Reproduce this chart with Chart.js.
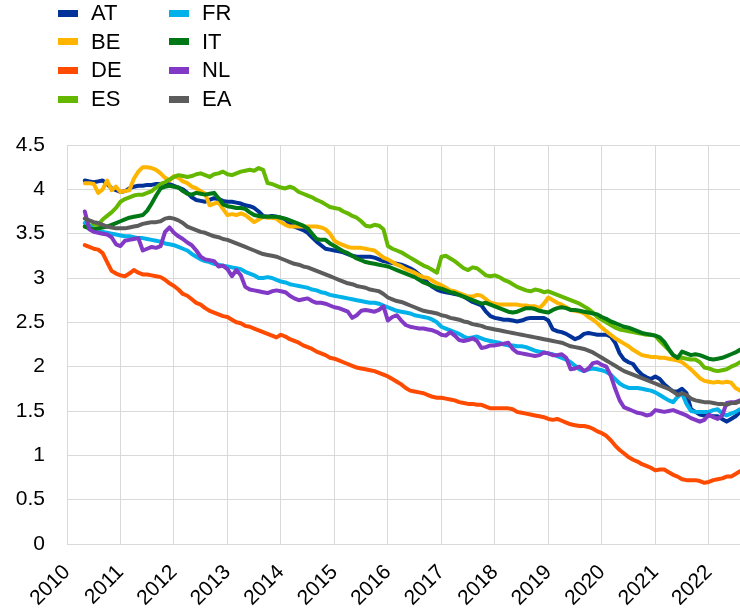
<!DOCTYPE html>
<html>
<head>
<meta charset="utf-8">
<title>Bond yields</title>
<script src="https://cdn.jsdelivr.net/npm/chart.js@4.4.0/dist/chart.umd.min.js"></script>
<style>
  body { margin: 0; background: #fff; }
  #wrap { position: relative; width: 740px; height: 613px; }
  #legend { position: absolute; left: 0; top: 0; font: 22px 'Liberation Sans', Arial, sans-serif; color: #000; }
  .item { position: absolute; display: flex; align-items: center; height: 28px; white-space: nowrap; }
  .swatch { width: 20px; height: 7px; margin-right: 13px; }
</style>
</head>
<body>
<div id="wrap">
  <canvas id="chart" width="740" height="613"></canvas>
  <div id="legend"></div>
</div>
<script>
// monthly series, May 2010 - Aug 2022
const firstMonth = '2010-05';
const lastMonth = '2022-08';

const names = ['AT', 'BE', 'DE', 'ES', 'FR', 'IT', 'NL', 'EA'];
const colors = ['#003299', '#FFB400', '#FF4B00', '#65B800', '#00B1EA', '#007816', '#8139C6', '#5C5C5C'];

const at = [
  4.10, 4.09, 4.08, 4.09, 4.10, 4.06, 4.01, 3.99,
  3.97, 3.98, 4.01, 4.03, 4.04, 4.04, 4.05, 4.05, 4.06, 4.06, 4.07, 4.06,
  4.04, 4.02, 4.00, 3.96, 3.91, 3.88, 3.87, 3.86, 3.88, 3.90, 3.89, 3.87,
  3.86, 3.86, 3.85, 3.84, 3.82, 3.81, 3.79, 3.75, 3.70, 3.69, 3.70, 3.69,
  3.68, 3.66, 3.61, 3.58, 3.56, 3.54, 3.51, 3.46, 3.41, 3.37, 3.33, 3.32,
  3.31, 3.30, 3.29, 3.27, 3.25, 3.24, 3.24, 3.24, 3.24, 3.23, 3.21, 3.19,
  3.18, 3.17, 3.16, 3.15, 3.13, 3.11, 3.08, 3.04, 3.00, 2.94, 2.90, 2.87,
  2.85, 2.84, 2.83, 2.82, 2.81, 2.79, 2.76, 2.73, 2.71, 2.69, 2.62, 2.57,
  2.55, 2.54, 2.53, 2.53, 2.52, 2.51, 2.52, 2.54, 2.55, 2.55, 2.55, 2.55,
  2.52, 2.42, 2.40, 2.39, 2.37, 2.34, 2.31, 2.33, 2.37, 2.38, 2.37, 2.36,
  2.36, 2.36, 2.34, 2.27, 2.15, 2.08, 2.05, 2.03, 1.96, 1.91, 1.88, 1.86,
  1.89, 1.86, 1.80, 1.76, 1.72, 1.72, 1.75, 1.70, 1.52, 1.49, 1.46, 1.45,
  1.45, 1.44, 1.44, 1.41, 1.38, 1.41, 1.44, 1.49
];
const be = [
  4.07, 4.07, 4.06, 3.96, 4.00, 4.10, 3.99, 4.03,
  3.97, 3.98, 3.99, 4.12, 4.20, 4.25, 4.25, 4.24, 4.22, 4.18, 4.13, 4.10,
  4.15, 4.13, 4.09, 4.07, 4.03, 4.01, 3.98, 3.95, 3.82, 3.84, 3.85, 3.78,
  3.71, 3.72, 3.71, 3.73, 3.71, 3.67, 3.63, 3.66, 3.69, 3.68, 3.68, 3.67,
  3.63, 3.60, 3.58, 3.58, 3.58, 3.58, 3.58, 3.58, 3.58, 3.57, 3.55, 3.50,
  3.42, 3.39, 3.37, 3.35, 3.34, 3.34, 3.34, 3.33, 3.32, 3.31, 3.27, 3.23,
  3.21, 3.18, 3.15, 3.13, 3.10, 3.08, 3.06, 3.03, 3.01, 3.00, 2.97, 2.94,
  2.92, 2.89, 2.86, 2.85, 2.83, 2.81, 2.79, 2.79, 2.81, 2.80, 2.76, 2.72,
  2.71, 2.70, 2.70, 2.70, 2.70, 2.70, 2.69, 2.69, 2.68, 2.68, 2.66, 2.71,
  2.78, 2.75, 2.72, 2.70, 2.67, 2.64, 2.63, 2.62, 2.60, 2.56, 2.53, 2.49,
  2.44, 2.40, 2.36, 2.32, 2.29, 2.26, 2.23, 2.19, 2.16, 2.13, 2.12, 2.11,
  2.11, 2.10, 2.10, 2.09, 2.08, 2.07, 2.05, 2.01, 1.97, 1.92, 1.87, 1.84,
  1.83, 1.82, 1.83, 1.82, 1.83, 1.82, 1.76, 1.73
];
const de = [
  3.37, 3.35, 3.33, 3.32, 3.28, 3.18, 3.08, 3.05,
  3.03, 3.02, 3.05, 3.09, 3.06, 3.04, 3.04, 3.03, 3.02, 3.01, 2.98, 2.94,
  2.91, 2.87, 2.82, 2.80, 2.76, 2.72, 2.70, 2.66, 2.63, 2.61, 2.59, 2.57,
  2.56, 2.53, 2.50, 2.49, 2.46, 2.45, 2.43, 2.41, 2.39, 2.37, 2.35, 2.33,
  2.36, 2.34, 2.31, 2.29, 2.27, 2.24, 2.22, 2.20, 2.17, 2.15, 2.13, 2.10,
  2.09, 2.07, 2.05, 2.03, 2.01, 1.99, 1.98, 1.97, 1.96, 1.95, 1.93, 1.91,
  1.89, 1.86, 1.83, 1.80, 1.76, 1.73, 1.72, 1.71, 1.70, 1.68, 1.66, 1.65,
  1.65, 1.64, 1.63, 1.62, 1.60, 1.59, 1.58, 1.58, 1.57, 1.57, 1.55, 1.53,
  1.53, 1.53, 1.53, 1.53, 1.52, 1.49, 1.48, 1.47, 1.46, 1.45, 1.44, 1.43,
  1.41, 1.40, 1.41, 1.39, 1.37, 1.35, 1.34, 1.33, 1.33, 1.32, 1.30, 1.27,
  1.25, 1.22, 1.17, 1.11, 1.06, 1.02, 0.98, 0.95, 0.93, 0.90, 0.88, 0.86,
  0.83, 0.84, 0.84, 0.81, 0.78, 0.76, 0.73, 0.72, 0.72, 0.72, 0.71, 0.69,
  0.70, 0.72, 0.73, 0.74, 0.76, 0.76, 0.79, 0.82
];
const es = [
  3.58, 3.59, 3.60, 3.60, 3.66, 3.70, 3.74, 3.79,
  3.86, 3.89, 3.91, 3.93, 3.94, 3.94, 3.96, 3.98, 4.02, 4.06, 4.08, 4.11,
  4.14, 4.16, 4.15, 4.14, 4.15, 4.17, 4.18, 4.16, 4.14, 4.17, 4.18, 4.20,
  4.17, 4.16, 4.18, 4.20, 4.21, 4.22, 4.21, 4.24, 4.22, 4.07, 4.06, 4.04,
  4.02, 4.01, 4.03, 4.01, 3.97, 3.95, 3.93, 3.91, 3.88, 3.86, 3.83, 3.80,
  3.79, 3.78, 3.75, 3.73, 3.70, 3.68, 3.64, 3.59, 3.58, 3.60, 3.59, 3.55,
  3.36, 3.33, 3.31, 3.29, 3.26, 3.23, 3.20, 3.17, 3.14, 3.12, 3.09, 3.06,
  3.24, 3.25, 3.22, 3.19, 3.15, 3.11, 3.09, 3.12, 3.11, 3.07, 3.03, 3.02,
  3.03, 3.01, 2.98, 2.96, 2.93, 2.90, 2.88, 2.86, 2.85, 2.87, 2.86, 2.84,
  2.85, 2.83, 2.81, 2.79, 2.77, 2.75, 2.73, 2.71, 2.68, 2.65, 2.61, 2.56,
  2.53, 2.50, 2.47, 2.44, 2.42, 2.41, 2.40, 2.39, 2.38, 2.37, 2.36, 2.36,
  2.35, 2.29, 2.24, 2.19, 2.13, 2.10, 2.10, 2.09, 2.08, 2.08, 2.05, 1.99,
  1.98, 1.96, 1.95, 1.96, 1.97, 2.00, 2.02, 2.05
];
const fr = [
  3.62, 3.59, 3.55, 3.53, 3.52, 3.51, 3.50, 3.49,
  3.48, 3.47, 3.47, 3.46, 3.45, 3.45, 3.44, 3.43, 3.42, 3.41, 3.39, 3.38,
  3.37, 3.35, 3.33, 3.31, 3.27, 3.24, 3.21, 3.19, 3.18, 3.16, 3.15, 3.14,
  3.13, 3.12, 3.11, 3.10, 3.07, 3.05, 3.03, 3.00, 3.00, 3.01, 3.00, 2.98,
  2.96, 2.95, 2.93, 2.92, 2.91, 2.90, 2.89, 2.87, 2.86, 2.84, 2.83, 2.81,
  2.80, 2.79, 2.78, 2.77, 2.76, 2.75, 2.74, 2.73, 2.72, 2.72, 2.71, 2.69,
  2.67, 2.65, 2.63, 2.62, 2.61, 2.60, 2.58, 2.57, 2.56, 2.55, 2.53, 2.50,
  2.45, 2.43, 2.41, 2.39, 2.37, 2.34, 2.32, 2.33, 2.34, 2.32, 2.30, 2.29,
  2.28, 2.27, 2.25, 2.24, 2.24, 2.23, 2.23, 2.22, 2.20, 2.18, 2.17, 2.16,
  2.15, 2.14, 2.12, 2.10, 2.08, 2.05, 2.01, 1.97, 1.95, 1.97, 1.98, 1.97,
  1.96, 1.94, 1.91, 1.86, 1.81, 1.78, 1.76, 1.76, 1.76, 1.75, 1.74, 1.73,
  1.71, 1.68, 1.65, 1.62, 1.60, 1.66, 1.70, 1.58, 1.50, 1.49, 1.49, 1.49,
  1.49, 1.51, 1.52, 1.47, 1.45, 1.47, 1.49, 1.52
];
const it = [
  3.58, 3.56, 3.55, 3.56, 3.57, 3.58, 3.60, 3.62,
  3.64, 3.66, 3.68, 3.69, 3.70, 3.71, 3.76, 3.84, 3.93, 4.01, 4.03, 4.04,
  4.03, 4.02, 3.98, 3.95, 3.94, 3.96, 3.95, 3.94, 3.95, 3.96, 3.90, 3.83,
  3.81, 3.80, 3.79, 3.79, 3.78, 3.74, 3.71, 3.70, 3.69, 3.69, 3.69, 3.69,
  3.68, 3.67, 3.65, 3.63, 3.61, 3.59, 3.56, 3.50, 3.44, 3.43, 3.43, 3.39,
  3.36, 3.33, 3.30, 3.28, 3.25, 3.22, 3.20, 3.18, 3.17, 3.16, 3.15, 3.14,
  3.13, 3.11, 3.09, 3.07, 3.05, 3.03, 3.01, 2.98, 2.95, 2.93, 2.91, 2.89,
  2.88, 2.86, 2.84, 2.83, 2.81, 2.79, 2.77, 2.75, 2.73, 2.71, 2.72, 2.70,
  2.68, 2.66, 2.64, 2.62, 2.61, 2.62, 2.64, 2.66, 2.66, 2.65, 2.63, 2.62,
  2.61, 2.64, 2.66, 2.67, 2.66, 2.64, 2.64, 2.63, 2.62, 2.61, 2.60, 2.59,
  2.56, 2.54, 2.51, 2.49, 2.47, 2.45, 2.44, 2.42, 2.40, 2.38, 2.37, 2.36,
  2.35, 2.33, 2.28, 2.20, 2.13, 2.10, 2.17, 2.15, 2.13, 2.14, 2.13, 2.11,
  2.09, 2.08, 2.09, 2.10, 2.12, 2.14, 2.16, 2.19
];
const nl = [
  3.75, 3.55, 3.52, 3.51, 3.50, 3.49, 3.46, 3.38,
  3.36, 3.42, 3.43, 3.44, 3.45, 3.31, 3.33, 3.35, 3.34, 3.36, 3.52, 3.57,
  3.51, 3.47, 3.44, 3.40, 3.37, 3.31, 3.24, 3.21, 3.20, 3.19, 3.13, 3.14,
  3.10, 3.02, 3.09, 3.03, 2.90, 2.87, 2.86, 2.85, 2.84, 2.83, 2.85, 2.86,
  2.85, 2.84, 2.80, 2.77, 2.75, 2.76, 2.77, 2.74, 2.72, 2.72, 2.71, 2.69,
  2.67, 2.66, 2.64, 2.62, 2.55, 2.58, 2.63, 2.64, 2.63, 2.62, 2.64, 2.68,
  2.52, 2.56, 2.58, 2.52, 2.47, 2.45, 2.44, 2.43, 2.43, 2.42, 2.41, 2.39,
  2.36, 2.35, 2.39, 2.35, 2.30, 2.29, 2.30, 2.32, 2.29, 2.21, 2.22, 2.24,
  2.24, 2.25, 2.26, 2.27, 2.20, 2.16, 2.15, 2.14, 2.13, 2.12, 2.13, 2.16,
  2.15, 2.13, 2.13, 2.14, 2.10, 1.97, 1.98, 2.00, 1.95, 1.98, 2.04, 2.05,
  2.02, 2.00, 1.90, 1.75, 1.62, 1.54, 1.52, 1.50, 1.48, 1.47, 1.45, 1.46,
  1.51, 1.50, 1.49, 1.50, 1.51, 1.49, 1.47, 1.45, 1.42, 1.40, 1.38, 1.40,
  1.46, 1.43, 1.41, 1.45, 1.59, 1.60, 1.60, 1.62
];
const ea = [
  3.67, 3.65, 3.63, 3.62, 3.60, 3.58, 3.57, 3.56,
  3.56, 3.56, 3.57, 3.58, 3.59, 3.61, 3.62, 3.63, 3.63, 3.64, 3.67, 3.68,
  3.67, 3.65, 3.62, 3.58, 3.56, 3.54, 3.52, 3.51, 3.49, 3.47, 3.46, 3.44,
  3.43, 3.41, 3.39, 3.37, 3.35, 3.33, 3.31, 3.29, 3.27, 3.26, 3.25, 3.24,
  3.22, 3.20, 3.18, 3.16, 3.15, 3.13, 3.12, 3.10, 3.08, 3.06, 3.04, 3.02,
  3.00, 2.98, 2.96, 2.94, 2.93, 2.91, 2.90, 2.89, 2.87, 2.86, 2.85, 2.82,
  2.78, 2.76, 2.74, 2.73, 2.71, 2.69, 2.67, 2.65, 2.63, 2.62, 2.61, 2.60,
  2.58, 2.57, 2.55, 2.54, 2.53, 2.51, 2.50, 2.48, 2.47, 2.46, 2.44, 2.43,
  2.42, 2.41, 2.40, 2.39, 2.38, 2.37, 2.36, 2.35, 2.34, 2.33, 2.32, 2.31,
  2.30, 2.29, 2.28, 2.27, 2.25, 2.23, 2.22, 2.21, 2.20, 2.18, 2.16, 2.13,
  2.10, 2.07, 2.04, 2.01, 1.98, 1.95, 1.93, 1.91, 1.89, 1.87, 1.85, 1.83,
  1.81, 1.79, 1.77, 1.75, 1.72, 1.68, 1.70, 1.68, 1.64, 1.62, 1.61, 1.60,
  1.60, 1.59, 1.58, 1.58, 1.57, 1.59, 1.59, 1.61
];
const series = [at, be, de, es, fr, it, nl, ea];

const yTicks = { min: 0, max: 4.5, step: 0.5 };
const font = { family: "'Liberation Sans', Arial, sans-serif", size: 21 };

// month labels from Jan 2010 so the year grid starts at the left edge
const months = [];
for (let y = 2010; ; y++) {
  let done = false;
  for (let m = 1; m <= 12; m++) {
    const key = y + '-' + String(m).padStart(2, '0');
    months.push(key);
    if (key === lastMonth) { done = true; break; }
  }
  if (done) break;
}
const lead = months.indexOf(firstMonth);
const isJan = i => months[i] && months[i].endsWith('-01');

// legend: two columns of four
const legend = document.getElementById('legend');
names.forEach((name, i) => {
  const col = Math.floor(i / 4), row = i % 4;
  const el = document.createElement('div');
  el.className = 'item';
  el.style.left = (58 + col * 111) + 'px';
  el.style.top = (-1 + row * 28.7) + 'px';
  el.innerHTML = '<span class="swatch" style="background:' + colors[i] + '"></span>' + name;
  legend.appendChild(el);
});

new Chart(document.getElementById('chart'), {
  type: 'line',
  data: {
    labels: months,
    datasets: names.map((name, i) => ({
      label: name,
      data: new Array(lead).fill(null).concat(series[i]),
      borderColor: colors[i],
      backgroundColor: colors[i],
      borderWidth: 4,
      pointRadius: 0,
      tension: 0,
      borderJoinStyle: 'round',
      borderCapStyle: 'round',
      order: names.length - 1 - i
    }))
  },
  options: {
    responsive: false,
    animation: false,
    layout: { padding: { top: 145, right: 0, bottom: 0, left: 0 } },
    plugins: { legend: { display: false }, tooltip: { enabled: false } },
    scales: {
      x: {
        type: 'category',
        offset: false,
        grid: {
          color: c => isJan(c.index) ? '#d9d9d9' : 'rgba(0,0,0,0)',
          drawTicks: false
        },
        border: { color: '#d9d9d9' },
        ticks: {
          autoSkip: false,
          minRotation: 45,
          maxRotation: 45,
          padding: 16,
          color: '#000',
          font: font,
          callback: (v, i) => isJan(i) ? months[i].slice(0, 4) : ''
        },
        afterFit: s => { s.height = 69; s.paddingRight = 0; }
      },
      y: {
        min: yTicks.min,
        max: yTicks.max,
        grid: { color: '#d9d9d9', drawTicks: false },
        border: { color: '#d9d9d9' },
        ticks: {
          stepSize: yTicks.step,
          padding: 22,
          color: '#000',
          font: font,
          callback: v => String(Math.round(v * 10) / 10)
        },
        afterFit: s => { s.width = 67; }
      }
    }
  }
});
</script>
</body>
</html>
